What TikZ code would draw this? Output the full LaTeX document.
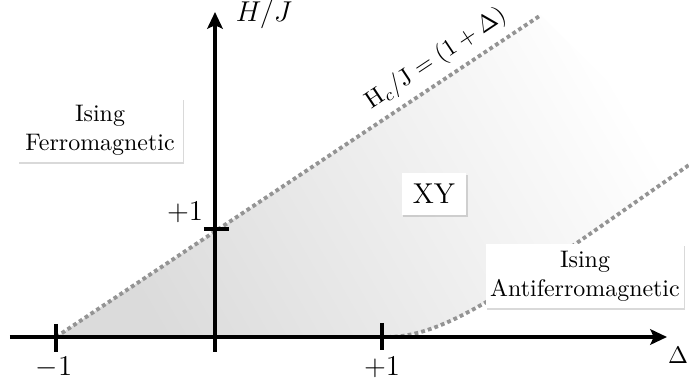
\documentclass[tikz,border=0pt]{standalone}
\usetikzlibrary{arrows.meta,shadows}
\begin{document}
\begin{tikzpicture}[x=0.418pt,y=-0.418pt,
  axis/.style={line width=1.7pt,-{Stealth[length=7pt,width=6.5pt,inset=1.5pt]}},
  tickline/.style={line width=1.7pt},
  dotline/.style={line width=1.6pt,draw=black!42,dash pattern=on 1.6pt off 1.3pt},
  phasebox/.style={fill=white,align=center,inner sep=0pt,
    drop shadow={shadow xshift=0.6pt,shadow yshift=-0.8pt,opacity=0.3}},
  lbl/.style={inner sep=0pt}]
\useasboundingbox (0,0) rectangle (689,387);
% coordinates
\coordinate (xs) at (10,337);
\coordinate (xe) at (667,337);
\coordinate (ys) at (215,352);
\coordinate (ye) at (215,12);
\coordinate (m1) at (56,337);
\coordinate (lineend) at (541,15);
\coordinate (p1) at (387,337);
\coordinate (curveend) at (689,165);
\coordinate (shadecorner) at (689,163);
% shading
\shade[top color=black!14,bottom color=white,shading angle=120]
  (m1) -- (lineend) -- (shadecorner) -- (curveend)
  .. controls (520,282) and (450,337) .. (p1) -- cycle;
% dotted boundaries
\draw[dotline] (m1) -- (lineend);
\draw[dotline] (p1) .. controls (450,337) and (520,282) .. (curveend);
% axes
\draw[axis] (xs) -- (xe);
\draw[axis] (ys) -- (ye);
% ticks
\coordinate (t1a) at (56,324); \coordinate (t1b) at (56,352);
\coordinate (t2a) at (382,323); \coordinate (t2b) at (382,350);
\coordinate (t3a) at (204,229); \coordinate (t3b) at (229,229);
\draw[tickline] (t1a) -- (t1b);
\draw[tickline] (t2a) -- (t2b);
\draw[tickline] (t3a) -- (t3b);
% labels
\node[lbl,font=\large] (lm1) at (54,367) {$-1$};
\node[lbl,font=\large] (lp1) at (382,367) {$+1$};
\node[lbl,font=\large] (lyp1) at (185,212) {$+1$};
\node[lbl] (ldelta) at (678,355) {$\Delta$};
\node[lbl,font=\large] (lhj) at (264,14) {$H/J$};
\node[lbl,rotate=33.6] (lhc) at (436,59) {$\mathrm{H}_c/\mathrm{J}=(1+\Delta)$};
% phase boxes
\node[phasebox,minimum width=69pt,minimum height=27pt] (ferro) at (100,130)
  {Ising\\Ferromagnetic};
\node[phasebox,minimum width=27pt,minimum height=17.6pt,font=\large] (xy) at (434,194) {XY};
\node[phasebox,minimum width=82.8pt,minimum height=27pt] (anti) at (585,276)
  {Ising\\Antiferromagnetic};
\end{tikzpicture}
\end{document}
